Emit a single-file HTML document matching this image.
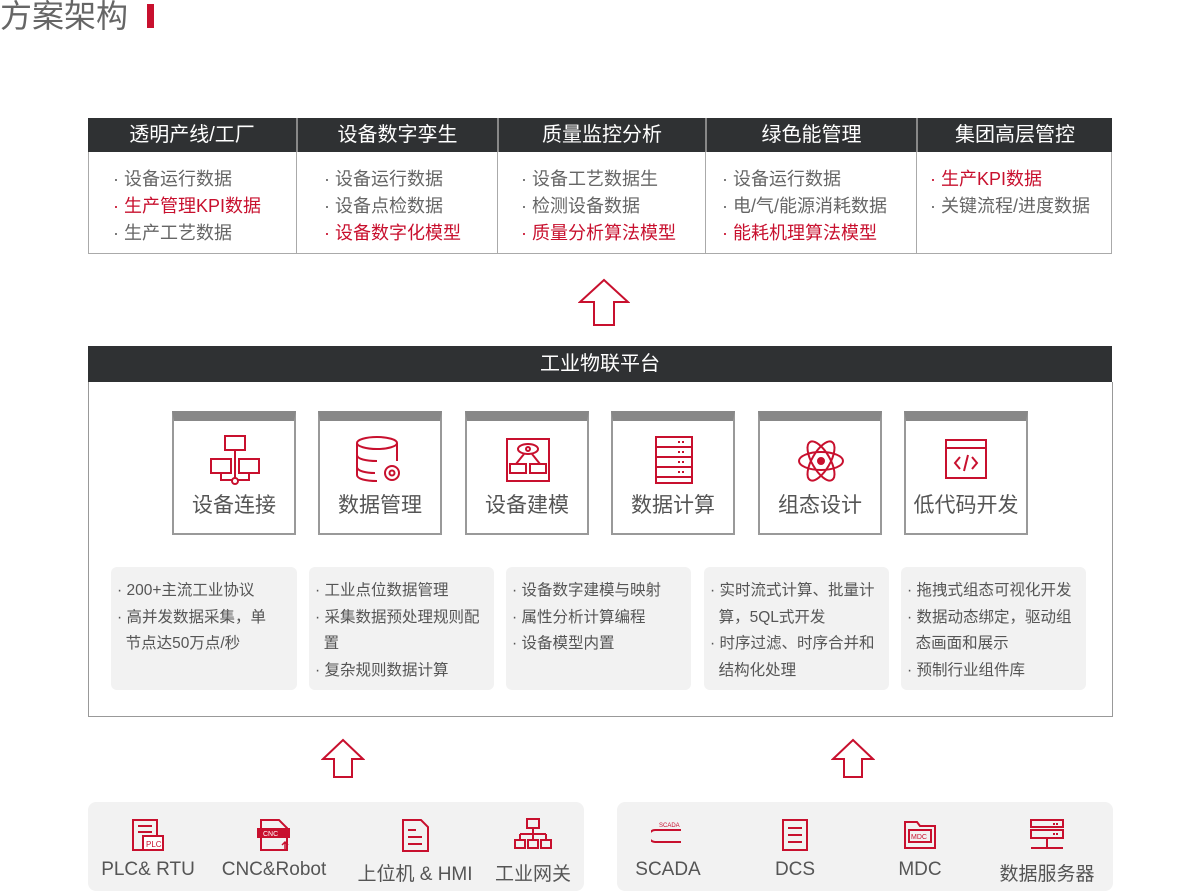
<!DOCTYPE html>
<html><head><meta charset="utf-8"><style>
*{margin:0;padding:0;box-sizing:border-box}
body{width:1200px;height:891px;background:#fff;position:relative;overflow:hidden;font-family:"Liberation Sans","Noto Sans CJK SC",sans-serif;color:#666}
.a{position:absolute}
.hd{background:#2f3133;color:#fff;font-size:20px;text-align:center;line-height:34px}
.cell{position:absolute;top:152px;height:102px;border:1px solid #aaa;border-top:none;font-size:18px;line-height:27px;padding-top:14px;white-space:nowrap}
.r{color:#c8102e}
.card{position:absolute;top:411px;width:124px;height:124px;border:2px solid #999;border-top:10px solid #888;background:#fff;text-align:center}
.card .t{position:absolute;top:68px;width:100%;font-size:21px;color:#555}
.card svg{position:absolute;left:35px;top:14px}
.desc{position:absolute;top:567px;height:123px;background:#f2f2f2;border-radius:6px;font-size:15.5px;line-height:26.5px;padding:11px 6px 0 6px;color:#555;white-space:nowrap}
.panel{position:absolute;top:802px;height:89px;background:#f2f2f2;border-radius:8px}
.it{position:absolute;top:16px;text-align:center;font-size:19px;color:#555;white-space:nowrap}
.it svg{display:block;margin:0 auto 7px}
</style></head><body>
<div class="a" style="left:0;top:-3px;font-size:32px;color:#666;line-height:38px">方案架构</div>
<div class="a" style="left:147px;top:4px;width:7px;height:24px;background:#c8102e"></div>

<div class="a hd" style="left:88px;top:118px;width:1024px;height:34px"></div>
<div class="a hd" style="left:88px;top:118px;width:208px">透明产线/工厂</div>
<div class="a hd" style="left:296px;top:118px;width:201px;border-left:2px solid #888">设备数字孪生</div>
<div class="a hd" style="left:497px;top:118px;width:208px;border-left:2px solid #888">质量监控分析</div>
<div class="a hd" style="left:705px;top:118px;width:211px;border-left:2px solid #888">绿色能管理</div>
<div class="a hd" style="left:916px;top:118px;width:196px;border-left:2px solid #888">集团高层管控</div>
<div class="cell" style="left:88px;width:209px;padding-left:24px">· 设备运行数据<br><span class="r">· 生产管理KPI数据</span><br>· 生产工艺数据</div>
<div class="cell" style="left:296px;width:202px;padding-left:27px">· 设备运行数据<br>· 设备点检数据<br><span class="r">· 设备数字化模型</span></div>
<div class="cell" style="left:497px;width:209px;padding-left:23px">· 设备工艺数据生<br>· 检测设备数据<br><span class="r">· 质量分析算法模型</span></div>
<div class="cell" style="left:705px;width:212px;padding-left:16px">· 设备运行数据<br>· 电/气/能源消耗数据<br><span class="r">· 能耗机理算法模型</span></div>
<div class="cell" style="left:916px;width:196px;padding-left:13px"><span class="r">· 生产KPI数据</span><br>· 关键流程/进度数据</div>

<svg class="a" style="left:578px;top:278px" width="52" height="50"><path d="M26 2 L50 24 L36 24 L36 47 L16 47 L16 24 L2 24 Z" fill="#fff" stroke="#c8102e" stroke-width="2"/></svg>

<div class="a hd" style="left:88px;top:346px;width:1024px;height:36px;line-height:36px">工业物联平台</div>
<div class="a" style="left:88px;top:382px;width:1025px;height:335px;border:1px solid #999;border-top:none"></div>

<div class="card" style="left:172px"><svg width="52" height="52" fill="none" stroke="#c8102e" stroke-width="2"><rect x="16" y="1" width="20" height="14"/><rect x="2" y="24" width="20" height="14"/><rect x="30" y="24" width="20" height="14"/><path d="M26 15v30M12 38v7h28v-7"/><circle cx="26" cy="46" r="3" fill="#fff"/></svg><div class="t">设备连接</div></div>
<div class="card" style="left:318px"><svg width="52" height="52" fill="none" stroke="#c8102e" stroke-width="2"><ellipse cx="22" cy="8" rx="20" ry="6"/><path d="M2 8v32c0 4 9 6 20 6M42 8v18M2 20c0 4 9 6 20 6M2 32c0 4 9 6 18 6"/><circle cx="37" cy="38" r="7"/><circle cx="37" cy="38" r="2.5"/></svg><div class="t">数据管理</div></div>
<div class="card" style="left:465px"><svg width="52" height="52" fill="none" stroke="#c8102e" stroke-width="2"><rect x="5" y="4" width="42" height="42"/><ellipse cx="26" cy="14" rx="10" ry="5"/><circle cx="26" cy="14" r="2"/><path d="M22 19l-8 10M30 19l8 10"/><rect x="8" y="29" width="16" height="9"/><rect x="28" y="29" width="16" height="9"/></svg><div class="t">设备建模</div></div>
<div class="card" style="left:611px"><svg width="52" height="52" fill="none" stroke="#c8102e" stroke-width="2"><path d="M8 2h36v46H8z M8 12h36M8 22h36M8 32h36M8 42h36"/><path d="M30 7h8M30 17h8M30 27h8M30 37h8" stroke-dasharray="2 2"/></svg><div class="t">数据计算</div></div>
<div class="card" style="left:758px"><svg width="52" height="52" fill="none" stroke="#c8102e" stroke-width="2"><ellipse cx="26" cy="26" rx="22" ry="9"/><ellipse cx="26" cy="26" rx="22" ry="9" transform="rotate(60 26 26)"/><ellipse cx="26" cy="26" rx="22" ry="9" transform="rotate(-60 26 26)"/><circle cx="26" cy="26" r="3" fill="#c8102e"/></svg><div class="t">组态设计</div></div>
<div class="card" style="left:904px"><svg width="52" height="52" fill="none" stroke="#c8102e" stroke-width="2"><rect x="5" y="5" width="40" height="38"/><path d="M5 13h40M19 22l-5 6 5 6M31 22l5 6-5 6M27 20l-4 16"/></svg><div class="t">低代码开发</div></div>

<div class="desc" style="left:111px;width:186px">· 200+主流工业协议<br>· 高并发数据采集，单<br>&nbsp;&nbsp;节点达50万点/秒</div>
<div class="desc" style="left:309px;width:185px">· 工业点位数据管理<br>· 采集数据预处理规则配<br>&nbsp;&nbsp;置<br>· 复杂规则数据计算</div>
<div class="desc" style="left:506px;width:185px">· 设备数字建模与映射<br>· 属性分析计算编程<br>· 设备模型内置</div>
<div class="desc" style="left:704px;width:185px">· 实时流式计算、批量计<br>&nbsp;&nbsp;算，5QL式开发<br>· 时序过滤、时序合并和<br>&nbsp;&nbsp;结构化处理</div>
<div class="desc" style="left:901px;width:185px">· 拖拽式组态可视化开发<br>· 数据动态绑定，驱动组<br>&nbsp;&nbsp;态画面和展示<br>· 预制行业组件库</div>

<svg class="a" style="left:321px;top:738px" width="44" height="42"><path d="M22 2 L42 21 L31 21 L31 39 L13 39 L13 21 L2 21 Z" fill="#fff" stroke="#c8102e" stroke-width="2"/></svg>
<svg class="a" style="left:831px;top:738px" width="44" height="42"><path d="M22 2 L42 21 L31 21 L31 39 L13 39 L13 21 L2 21 Z" fill="#fff" stroke="#c8102e" stroke-width="2"/></svg>

<div class="panel" style="left:88px;width:496px">
<div class="it" style="left:10px;width:100px"><svg width="34" height="34" fill="none" stroke="#c8102e" stroke-width="2"><path d="M2 2h24v30H2zM7 8h14M7 14h14"/><rect x="12" y="18" width="20" height="14" fill="#fff"/><text x="15" y="29" font-size="8" fill="#c8102e" stroke="none" font-family="Liberation Sans">PLC</text></svg>PLC&amp; RTU</div>
<div class="it" style="left:127px;width:118px"><svg width="34" height="34" fill="none" stroke="#c8102e" stroke-width="2"><path d="M4 2h18l8 8v22H4z"/><rect x="0" y="11" width="32" height="8" fill="#c8102e"/><text x="6" y="18" font-size="7" fill="#fff" stroke="none" font-family="Liberation Sans">CNC</text><path d="M28 32v-8M25 27l3-3 3 3" stroke-width="1.5"/></svg>CNC&amp;Robot</div>
<div class="it" style="left:267px;width:120px"><svg width="34" height="34" fill="none" stroke="#c8102e" stroke-width="2"><path d="M5 2h18l7 7v24H5zM10 12h8M10 19h14M10 26h14"/></svg>上位机 &amp; HMI</div>
<div class="it" style="left:405px;width:80px"><svg width="38" height="34" fill="none" stroke="#c8102e" stroke-width="2"><rect x="13" y="1" width="12" height="9"/><path d="M19 10v6M6 16h26M6 16v6M19 16v6M32 16v6"/><rect x="1" y="22" width="10" height="8"/><rect x="14" y="22" width="10" height="8"/><rect x="27" y="22" width="10" height="8"/></svg>工业网关</div>
</div>
<div class="panel" style="left:617px;width:496px">
<div class="it" style="left:11px;width:80px"><svg width="34" height="34" fill="none" stroke="#c8102e" stroke-width="2"><text x="8" y="9" font-size="6" fill="#c8102e" stroke="none" font-family="Liberation Sans">SCADA</text><path d="M4 12h26M4 24h26M4 12a6 6 0 0 0 0 12"/></svg>SCADA</div>
<div class="it" style="left:138px;width:80px"><svg width="34" height="34" fill="none" stroke="#c8102e" stroke-width="2"><path d="M5 2h24v30H5zM10 10h14M10 17h14M10 24h14"/></svg>DCS</div>
<div class="it" style="left:263px;width:80px"><svg width="34" height="34" fill="none" stroke="#c8102e" stroke-width="2"><path d="M2 4h12l3 4h15v22H2z"/><rect x="6" y="12" width="22" height="12"/><text x="8" y="21" font-size="7" fill="#c8102e" stroke="none" font-family="Liberation Sans">MDC</text></svg>MDC</div>
<div class="it" style="left:380px;width:100px"><svg width="40" height="34" fill="none" stroke="#c8102e" stroke-width="2"><rect x="4" y="2" width="32" height="7"/><rect x="4" y="12" width="32" height="8"/><path d="M20 20v6M4 30h32M20 26v4"/><path d="M26 6h6M26 16h6" stroke-dasharray="2 1"/></svg>数据服务器</div>
</div>
</body></html>
